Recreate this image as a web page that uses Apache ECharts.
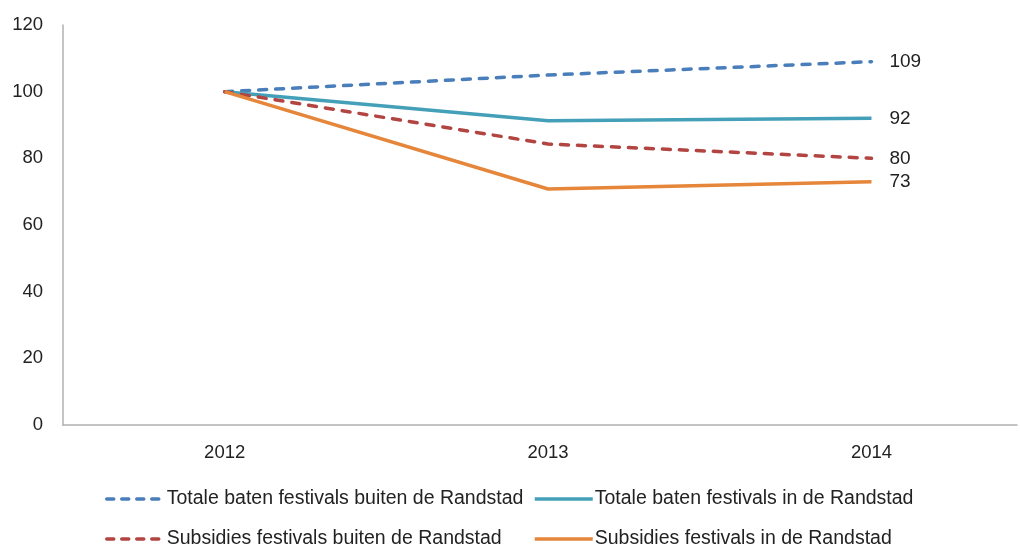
<!DOCTYPE html>
<html><head><meta charset="utf-8">
<script src="https://cdn.jsdelivr.net/npm/echarts@6/dist/echarts.min.js"></script>
<style>html,body{margin:0;padding:0;background:#fff}#c{width:1020px;height:545px}</style>
</head><body><div id="c"></div>
<script>
const years = [2012, 2013, 2014];
const seriesNames = [
  'Totale baten festivals buiten de Randstad',
  'Totale baten festivals in de Randstad',
  'Subsidies festivals buiten de Randstad',
  'Subsidies festivals in de Randstad'
];
const totaleBuiten = [100, 105, 109];
const totaleIn = [100, 91.3, 92];
const subsidiesBuiten = [100, 84.3, 80];
const subsidiesIn = [100, 70.8, 73];
const yTicks = [0, 20, 40, 60, 80, 100, 120];

const values = [totaleBuiten, totaleIn, subsidiesBuiten, subsidiesIn];
const colors = ['#4A7EBB', '#43A0B8', '#B24442', '#E5863A'];
const dashed = [true, false, true, false];
const font = 'Liberation Sans, Arial, sans-serif';

const chart = echarts.init(document.getElementById('c'));
const series = values.map((v, i) => ({
  name: seriesNames[i],
  type: 'line',
  symbol: 'none',
  data: years.map((y, j) => [y, v[j]]),
  lineStyle: {
    color: colors[i], width: 3.5,
    type: dashed[i] ? [8, 9] : 'solid',
    cap: dashed[i] ? 'round' : 'butt'
  },
  itemStyle: { color: colors[i] },
  endLabel: {
    show: true,
    formatter: p => Math.round(p.value[1]).toString(),
    distance: 18,
    color: '#222', fontSize: 19, fontFamily: font
  }
}));

const legendPos = [[105, 489], [533, 489], [105, 529], [533, 529]];
const legends = seriesNames.map((n, i) => ({
  data: [n],
  left: legendPos[i][0], top: legendPos[i][1],
  itemWidth: 58, itemHeight: 14, itemGap: 0,
  padding: 0,
  itemStyle: { opacity: 0 },
  lineStyle: {
    width: 3.5, color: colors[i],
    type: dashed[i] ? [7, 8] : 'solid',
    cap: dashed[i] ? 'round' : 'butt'
  },
  textStyle: { fontSize: 19.5, color: '#222', fontFamily: font, padding: [0, 0, 0, -3] }
}));

chart.setOption({
  animation: false,
  color: colors,
  grid: { left: 63, right: 3, top: 25, bottom: 120, containLabel: false },
  xAxis: {
    type: 'value', min: 2011.5, max: 2014.45, interval: 0.5,
    axisLine: { lineStyle: { color: '#B0B0B0', width: 1.5 } },
    axisTick: { show: false },
    splitLine: { show: false },
    axisLabel: {
      margin: 18, color: '#222', fontSize: 18.5, fontFamily: font,
      formatter: v => years.includes(v) ? String(v) : '',
      showMinLabel: true, showMaxLabel: false
    }
  },
  yAxis: {
    type: 'value', min: yTicks[0], max: yTicks[yTicks.length - 1], interval: 20,
    axisLine: { show: true, lineStyle: { color: '#B0B0B0', width: 1.5 } },
    axisTick: { show: false },
    splitLine: { show: false },
    axisLabel: { margin: 20, color: '#222', fontSize: 18.5, fontFamily: font }
  },
  legend: legends,
  series: series
});
</script></body></html>
